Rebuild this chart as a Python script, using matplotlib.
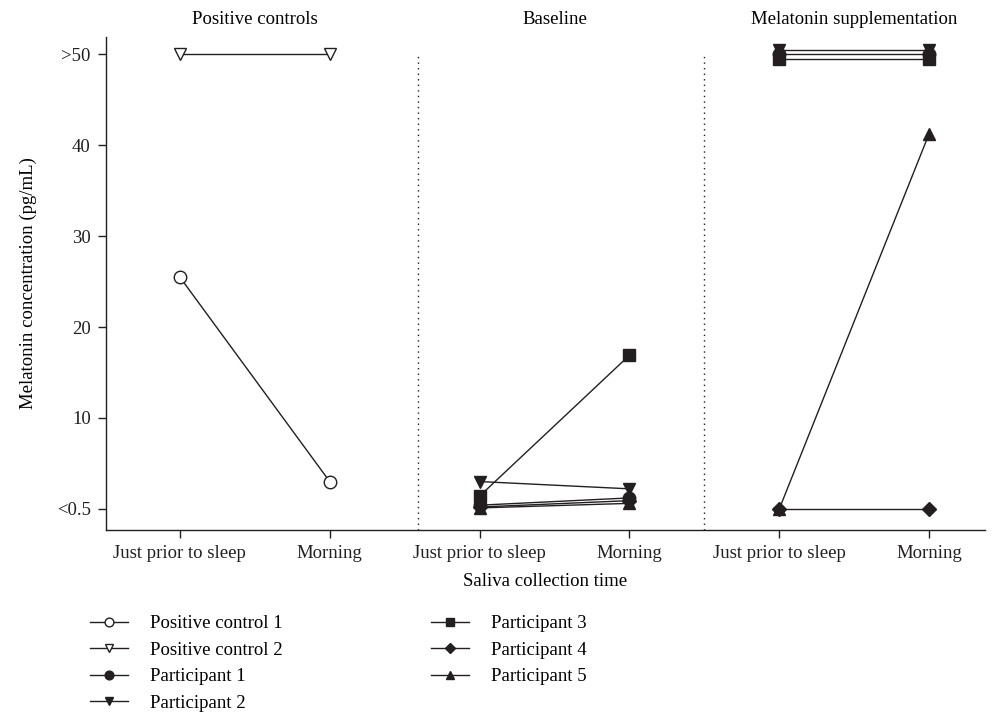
import matplotlib
matplotlib.use("Agg")
import matplotlib.pyplot as plt

plt.rcParams['font.family'] = ['Liberation Serif', 'DejaVu Serif']
plt.rcParams['font.size'] = 13.5

# ---- data ----
group_titles = ["Positive controls", "Baseline", "Melatonin supplementation"]
time_labels = ["Just prior to sleep", "Morning"] * 3
y_ticks = [0, 10, 20, 30, 40, 50]
y_tick_labels = ["<0.5", "10", "20", "30", "40", ">50"]

# x slots: 0,1 = positive controls ; 2,3 = baseline ; 4,5 = melatonin
pos_x = [0, 1]
base_x = [2, 3]
mel_x = [4, 5]

pc1 = [25.5, 3.0]
pc2 = [50.0, 50.0]
p1_base, p1_mel = [0.4, 1.2], [50.0, 50.0]
p2_base, p2_mel = [3.0, 2.2], [50.45, 50.45]
p3_base, p3_mel = [1.4, 16.9], [49.55, 49.55]
p4_base, p4_mel = [0.2, 0.9], [0.0, 0.0]
p5_base, p5_mel = [0.1, 0.6], [0.0, 41.3]

ink = "#231f20"
fs = 13.5

fig = plt.figure(figsize=(9.94, 7.15), dpi=100)
ax = fig.add_axes([0.1066, 0.259, 0.884, 0.689])

ms = 9
kw = dict(color=ink, lw=1.0)

ax.plot(pos_x, pc1, marker="o", mfc="white", mec=ink, ms=ms, label="Positive control 1", **kw)
ax.plot(pos_x, pc2, marker="v", mfc="white", mec=ink, ms=ms, label="Positive control 2", **kw)

series = [
    ("o", p1_base, p1_mel, "Participant 1"),
    ("v", p2_base, p2_mel, "Participant 2"),
    ("s", p3_base, p3_mel, "Participant 3"),
    ("D", p4_base, p4_mel, "Participant 4"),
    ("^", p5_base, p5_mel, "Participant 5"),
]
for mk, b, m, lab in series:
    size = ms - 1.5 if mk == "D" else ms
    ax.plot(base_x, b, marker=mk, mfc=ink, mec=ink, ms=size, label=lab, **kw)
    ax.plot(mel_x, m, marker=mk, mfc=ink, mec=ink, ms=size, **kw)

# group separators
for xv in [1.59, 3.5]:
    ax.axvline(xv, ymin=0, ymax=0.965, color=ink, lw=1.0, ls=(0, (1, 3)))

# group titles
for i, t in enumerate(group_titles):
    ax.text(2 * i + 0.5, 52.9, t, ha="center", va="bottom", fontsize=fs)

ax.set_xlim(-0.493, 5.37)
ax.set_ylim(-2.31, 51.9)
ax.set_xticks(range(6))
ax.set_xticklabels(time_labels, fontsize=fs)
ax.set_yticks(y_ticks)
ax.set_yticklabels(y_tick_labels, fontsize=fs)
ax.tick_params(direction="out", length=6, width=1, colors=ink, pad=5)
ax.spines["top"].set_visible(False)
ax.spines["right"].set_visible(False)
for s in ["left", "bottom"]:
    ax.spines[s].set_color(ink)
    ax.spines[s].set_linewidth(1.0)

ax.set_xlabel("Saliva collection time", fontsize=fs, labelpad=8)
ax.set_ylabel("Melatonin concentration (pg/mL)", fontsize=fs, labelpad=14)

handles, labels = ax.get_legend_handles_labels()
fig.legend(handles, labels, loc="upper left", bbox_to_anchor=(0.074, 0.163),
           ncol=2, frameon=False, fontsize=fs, handlelength=2.0, markerscale=0.7,
           columnspacing=7.9, labelspacing=0.5, handletextpad=1.2)

fig.savefig("out.png", dpi=100)
